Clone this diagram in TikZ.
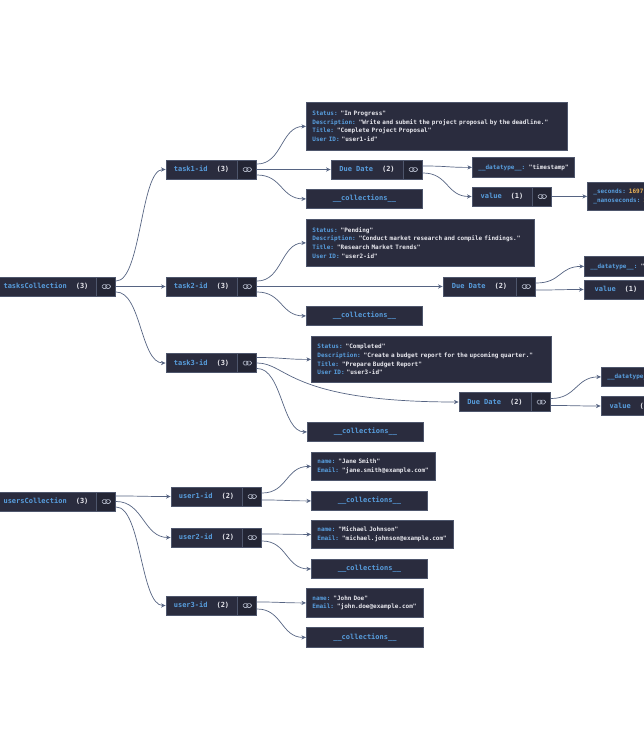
\documentclass[tikz,border=0pt]{standalone}
\usepackage{fontspec}
\setmonofont{DejaVu Sans Mono}
\usetikzlibrary{
  arrows.meta,
  positioning
}
\definecolor{boxfill}{RGB}{42,44,62}
\definecolor{iconfill}{RGB}{35,37,52}
\definecolor{boxline}{RGB}{78,86,108}
\definecolor{keyblue}{RGB}{88,158,222}
\definecolor{valwhite}{RGB}{232,232,238}
\definecolor{numorange}{RGB}{234,178,86}
\definecolor{edgegray}{RGB}{86,100,130}
\definecolor{icongray}{RGB}{172,178,194}

\newcommand{\fkey}[1]{\textcolor{keyblue}{#1}}
\newcommand{\cnt}[1]{\hspace{9pt}\textcolor{valwhite}{#1}}

\tikzset{
  doc key/.style={
    draw=boxline,
    fill=boxfill,
    line width=0.8pt,
    minimum height=19pt,
    inner sep=0pt,
    text=keyblue,
    font=\ttfamily\bfseries\fontsize{7}{8}\selectfont
  },
  doc link/.style={
    draw=boxline,
    fill=iconfill,
    line width=0.8pt,
    minimum height=19pt,
    minimum width=19pt,
    inner sep=0pt,
    path picture={
      \draw[icongray, line width=0.7pt, rounded corners=1.5pt]
        ([xshift=-4.2pt,yshift=-1.9pt]path picture bounding box.center)
        rectangle ++(4.9pt,3.8pt);
      \draw[icongray, line width=0.7pt, rounded corners=1.5pt]
        ([xshift=-0.7pt,yshift=-1.9pt]path picture bounding box.center)
        rectangle ++(4.9pt,3.8pt);
    }
  },
  doc fields/.style={
    draw=boxline,
    fill=boxfill,
    line width=0.8pt,
    anchor=north west,
    inner xsep=6pt,
    inner ysep=0pt,
    align=left,
    text=valwhite,
    font=\ttfamily\bfseries\fontsize{6}{8.8}\selectfont
  },
  doc col/.style={
    doc key,
    anchor=north west,
    minimum width=116pt
  },
  doc leaf/.style={
    doc fields,
    minimum height=20pt
  },
  tree edge/.style={
    edgegray,
    line width=0.7pt,
    -{Stealth[length=4.6pt,width=4.2pt]}
  }
}

\begin{document}
\begin{tikzpicture}[x=1pt,y=-1pt]

    \useasboundingbox (0,0) rectangle (644,750);
    \clip (0,0) rectangle (644,750);

    % ---------- tasksCollection ----------
    \node[doc key, minimum width=100pt] (tasks) at (46,286.5)
      {tasksCollection\cnt{(3)}};
    \node[doc link, right=0pt of tasks] (taskslink) {};

    \node[doc key, minimum width=71pt] (task1) at (201.5,169.5)
      {task1-id\cnt{(3)}};
    \node[doc link, right=0pt of task1] (task1link) {};
    \node[doc key, minimum width=71pt] (task2) at (201.5,286.5)
      {task2-id\cnt{(3)}};
    \node[doc link, right=0pt of task2] (task2link) {};
    \node[doc key, minimum width=71pt] (task3) at (201.5,363)
      {task3-id\cnt{(3)}};
    \node[doc link, right=0pt of task3] (task3link) {};

    % task1-id
    \node[doc fields, text width=249pt, minimum height=48pt] (fields1) at (306,102)
      {\fkey{Status:} "In Progress"\\
       \fkey{Description:} "Write and submit the project proposal by the deadline."\\
       \fkey{Title:} "Complete Project Proposal"\\
       \fkey{User ID:} "user1-id"};
    \node[doc key, minimum width=72pt] (due1) at (367,169.5)
      {Due Date\cnt{(2)}};
    \node[doc link, right=0pt of due1] (due1link) {};
    \node[doc col] (col1) at (306,189) {\_\_collections\_\_};
    \node[doc leaf, minimum width=102pt] (type1) at (472,157)
      {\fkey{\_\_datatype\_\_:} "timestamp"};
    \node[doc key, minimum width=60pt] (val1) at (502,196.5)
      {value\cnt{(1)}};
    \node[doc link, right=0pt of val1] (val1link) {};
    \node[doc fields, text width=110pt, minimum height=28pt] (secs1) at (587,182)
      {\fkey{\_seconds:} \textcolor{numorange}{1697}\\
       \fkey{\_nanoseconds:} \textcolor{numorange}{1}};

    % task2-id
    \node[doc fields, text width=216pt, minimum height=47pt] (fields2) at (306,219)
      {\fkey{Status:} "Pending"\\
       \fkey{Description:} "Conduct market research and compile findings."\\
       \fkey{Title:} "Research Market Trends"\\
       \fkey{User ID:} "user2-id"};
    \node[doc key, minimum width=73pt] (due2) at (479.5,286.5)
      {Due Date\cnt{(2)}};
    \node[doc link, right=0pt of due2] (due2link) {};
    \node[doc col] (col2) at (306,306) {\_\_collections\_\_};
    \node[doc leaf, minimum width=102pt] (type2) at (584,256)
      {\fkey{\_\_datatype\_\_:} "timestamp"};
    \node[doc key, minimum width=64pt] (val2) at (616,289.5)
      {value\cnt{(1)}};
    \node[doc link, right=0pt of val2] (val2link) {};

    % task3-id
    \node[doc fields, text width=228pt, minimum height=46pt] (fields3) at (311,336)
      {\fkey{Status:} "Completed"\\
       \fkey{Description:} "Create a budget report for the upcoming quarter."\\
       \fkey{Title:} "Prepare Budget Report"\\
       \fkey{User ID:} "user3-id"};
    \node[doc key, minimum width=72pt] (due3) at (495,402)
      {Due Date\cnt{(2)}};
    \node[doc link, right=0pt of due3] (due3link) {};
    \node[doc col] (col3) at (307,422) {\_\_collections\_\_};
    \node[doc leaf, minimum width=102pt, minimum height=19pt] (type3) at (601,367)
      {\fkey{\_\_datatype\_\_:} "timestamp"};
    \node[doc key, minimum width=60pt] (val3) at (631,406)
      {value\cnt{(1)}};
    \node[doc link, right=0pt of val3] (val3link) {};

    % ---------- usersCollection ----------
    \node[doc key, minimum width=100pt] (users) at (46,501.5)
      {usersCollection\cnt{(3)}};
    \node[doc link, right=0pt of users] (userslink) {};

    \node[doc key, minimum width=71pt] (user1) at (206.5,496.5)
      {user1-id\cnt{(2)}};
    \node[doc link, right=0pt of user1] (user1link) {};
    \node[doc key, minimum width=71pt] (user2) at (206.5,537.5)
      {user2-id\cnt{(2)}};
    \node[doc link, right=0pt of user2] (user2link) {};
    \node[doc key, minimum width=71pt] (user3) at (201.5,605.5)
      {user3-id\cnt{(2)}};
    \node[doc link, right=0pt of user3] (user3link) {};

    \node[doc fields, text width=112pt, minimum height=28pt] (ufields1) at (311,452)
      {\fkey{name:} "Jane Smith"\\
       \fkey{Email:} "jane.smith@example.com"};
    \node[doc col] (ucol1) at (311,491) {\_\_collections\_\_};
    \node[doc fields, text width=130pt, minimum height=28pt] (ufields2) at (311,520)
      {\fkey{name:} "Michael Johnson"\\
       \fkey{Email:} "michael.johnson@example.com"};
    \node[doc col] (ucol2) at (311,559) {\_\_collections\_\_};
    \node[doc fields, text width=105pt, minimum height=29pt] (ufields3) at (306,588)
      {\fkey{name:} "John Doe"\\
       \fkey{Email:} "john.doe@example.com"};
    \node[doc col, minimum width=117pt, minimum height=20pt] (ucol3) at (306,627)
      {\_\_collections\_\_};

    % ---------- Kanten ----------
    \draw[tree edge] ([yshift=5.5pt]taskslink.east)
      .. controls +(25,0) and +(-25,0) .. (task1.west);
    \draw[tree edge] (taskslink.east) -- (task2.west);
    \draw[tree edge] ([yshift=-5.5pt]taskslink.east)
      .. controls +(25,0) and +(-25,0) .. (task3.west);

    \draw[tree edge] ([yshift=5.5pt]task1link.east)
      .. controls +(25,0) and +(-25,0) .. (fields1.west);
    \draw[tree edge] (task1link.east) -- (due1.west);
    \draw[tree edge] ([yshift=-5.5pt]task1link.east)
      .. controls +(25,0) and +(-25,0) .. (col1.west);
    \draw[tree edge] ([yshift=3.5pt]due1link.east)
      .. controls +(25,0) and +(-25,0) .. (type1.west);
    \draw[tree edge] ([yshift=-3.5pt]due1link.east)
      .. controls +(25,0) and +(-25,0) .. (val1.west);
    \draw[tree edge] (val1link.east) -- (secs1.west);

    \draw[tree edge] ([yshift=5.5pt]task2link.east)
      .. controls +(25,0) and +(-25,0) .. (fields2.west);
    \draw[tree edge] (task2link.east) -- (due2.west);
    \draw[tree edge] ([yshift=-5.5pt]task2link.east)
      .. controls +(25,0) and +(-25,0) .. (col2.west);
    \draw[tree edge] ([yshift=3.5pt]due2link.east)
      .. controls +(25,0) and +(-25,0) .. (type2.west);
    \draw[tree edge] ([yshift=-3.5pt]due2link.east)
      .. controls +(25,0) and +(-25,0) .. (val2.west);

    \draw[tree edge] ([yshift=5.5pt]task3link.east)
      .. controls +(25,0) and +(-25,0) .. (fields3.west);
    \draw[tree edge] (task3link.east)
      .. controls +(30,0) and +(-170,0) .. (due3.west);
    \draw[tree edge] ([yshift=-5.5pt]task3link.east)
      .. controls +(25,0) and +(-25,0) .. (col3.west);
    \draw[tree edge] ([yshift=3.5pt]due3link.east)
      .. controls +(25,0) and +(-25,0) .. (type3.west);
    \draw[tree edge] ([yshift=-3.5pt]due3link.east)
      .. controls +(25,0) and +(-25,0) .. (val3.west);

    \draw[tree edge] ([yshift=5.5pt]userslink.east)
      .. controls +(27,0) and +(-27,0) .. (user1.west);
    \draw[tree edge] (userslink.east)
      .. controls +(27,0) and +(-27,0) .. (user2.west);
    \draw[tree edge] ([yshift=-5.5pt]userslink.east)
      .. controls +(25,0) and +(-25,0) .. (user3.west);

    \draw[tree edge] ([yshift=3.5pt]user1link.east)
      .. controls +(25,0) and +(-25,0) .. (ufields1.west);
    \draw[tree edge] ([yshift=-3.5pt]user1link.east)
      .. controls +(25,0) and +(-25,0) .. (ucol1.west);
    \draw[tree edge] ([yshift=3.5pt]user2link.east)
      .. controls +(25,0) and +(-25,0) .. (ufields2.west);
    \draw[tree edge] ([yshift=-3.5pt]user2link.east)
      .. controls +(25,0) and +(-25,0) .. (ucol2.west);
    \draw[tree edge] ([yshift=3.5pt]user3link.east)
      .. controls +(25,0) and +(-25,0) .. (ufields3.west);
    \draw[tree edge] ([yshift=-3.5pt]user3link.east)
      .. controls +(25,0) and +(-25,0) .. (ucol3.west);

\end{tikzpicture}
\end{document}
